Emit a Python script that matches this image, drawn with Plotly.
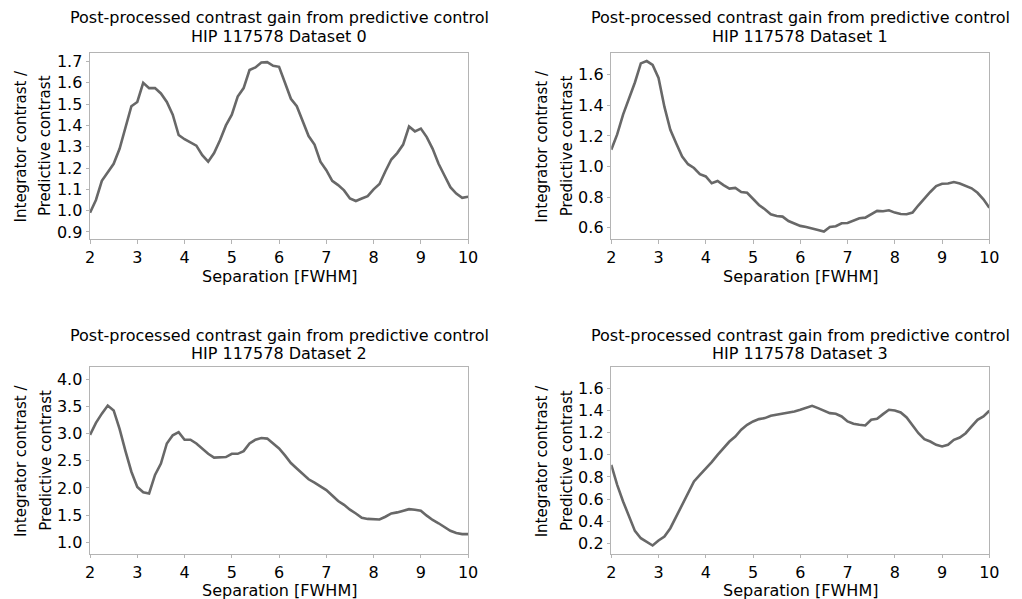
import plotly.graph_objects as go

separation = [2.0, 2.125, 2.25, 2.375, 2.5, 2.625, 2.75, 2.875,
              3.0, 3.125, 3.25, 3.375, 3.5, 3.625, 3.75, 3.875,
              4.0, 4.125, 4.25, 4.375, 4.5, 4.625, 4.75, 4.875,
              5.0, 5.125, 5.25, 5.375, 5.5, 5.625, 5.75, 5.875,
              6.0, 6.125, 6.25, 6.375, 6.5, 6.625, 6.75, 6.875,
              7.0, 7.125, 7.25, 7.375, 7.5, 7.625, 7.75, 7.875,
              8.0, 8.125, 8.25, 8.375, 8.5, 8.625, 8.75, 8.875,
              9.0, 9.125, 9.25, 9.375, 9.5, 9.625, 9.75, 9.875, 10.0]

gain_dataset0 = [0.99, 1.05, 1.14, 1.18, 1.22, 1.29, 1.39, 1.49,
                 1.51, 1.60, 1.575, 1.575, 1.55, 1.51, 1.45, 1.355,
                 1.335, 1.32, 1.305, 1.26, 1.23, 1.27, 1.33, 1.40,
                 1.45, 1.535, 1.575, 1.66, 1.672, 1.695, 1.697, 1.68,
                 1.675, 1.60, 1.525, 1.49, 1.42, 1.35, 1.31, 1.23,
                 1.19, 1.14, 1.12, 1.095, 1.057, 1.045, 1.057, 1.068,
                 1.10, 1.125, 1.185, 1.24, 1.27, 1.31, 1.395, 1.372,
                 1.385, 1.345, 1.29, 1.22, 1.165, 1.11, 1.08, 1.06, 1.065]

gain_dataset1 = [1.11, 1.21, 1.34, 1.45, 1.55, 1.675, 1.69, 1.665,
                 1.58, 1.39, 1.24, 1.15, 1.065, 1.015, 0.99, 0.95,
                 0.935, 0.89, 0.905, 0.878, 0.855, 0.86, 0.833, 0.828,
                 0.785, 0.748, 0.72, 0.687, 0.676, 0.672, 0.643, 0.626,
                 0.611, 0.604, 0.596, 0.585, 0.574, 0.604, 0.609, 0.628,
                 0.63, 0.643, 0.661, 0.665, 0.687, 0.709, 0.707, 0.713,
                 0.698, 0.689, 0.687, 0.698, 0.746, 0.791, 0.833, 0.872,
                 0.887, 0.889, 0.898, 0.889, 0.872, 0.857, 0.828, 0.785, 0.73]

gain_dataset2 = [2.98, 3.20, 3.37, 3.52, 3.43, 3.09, 2.68, 2.30,
                 2.02, 1.92, 1.90, 2.24, 2.45, 2.82, 2.97, 3.03,
                 2.89, 2.89, 2.82, 2.73, 2.63, 2.56, 2.57, 2.57,
                 2.63, 2.63, 2.68, 2.82, 2.89, 2.92, 2.91, 2.82,
                 2.73, 2.60, 2.46, 2.36, 2.26, 2.16, 2.10, 2.03,
                 1.96, 1.86, 1.76, 1.69, 1.60, 1.53, 1.45, 1.43,
                 1.42, 1.42, 1.47, 1.53, 1.55, 1.58, 1.61, 1.60,
                 1.58, 1.49, 1.41, 1.35, 1.28, 1.21, 1.17, 1.15, 1.15]

gain_dataset3 = [0.909, 0.729, 0.579, 0.443, 0.314, 0.248, 0.212, 0.182,
                 0.227, 0.263, 0.338, 0.443, 0.549, 0.654, 0.759, 0.819,
                 0.873, 0.933, 0.999, 1.059, 1.119, 1.164, 1.225, 1.270,
                 1.300, 1.321, 1.330, 1.351, 1.360, 1.375, 1.381, 1.390,
                 1.405, 1.420, 1.441, 1.420, 1.399, 1.375, 1.369, 1.345,
                 1.300, 1.279, 1.270, 1.264, 1.315, 1.324, 1.366, 1.405,
                 1.399, 1.381, 1.336, 1.264, 1.194, 1.140, 1.119, 1.089,
                 1.074, 1.089, 1.134, 1.155, 1.194, 1.255, 1.315, 1.345, 1.396]

datasets = [gain_dataset0, gain_dataset1, gain_dataset2, gain_dataset3]
dataset_names = ["HIP 117578 Dataset 0", "HIP 117578 Dataset 1",
                 "HIP 117578 Dataset 2", "HIP 117578 Dataset 3"]
main_title = "Post-processed contrast gain from predictive control"
x_label = "Separation [FWHM]"
y_label_lines = ["Integrator contrast /", "Predictive contrast"]
x_ticks = [2, 3, 4, 5, 6, 7, 8, 9, 10]

W, H = 1022, 599
# axes boxes in pixels: (left, right, top, bottom)
boxes = [(86.3, 470.0, 52.7, 240.0), (615.3, 999.0, 52.7, 240.0),
         (86.3, 470.0, 368.4, 555.7), (615.3, 999.0, 368.4, 555.7)]
# title line offsets above the axes top (px), per subplot
title_offsets = [(35.5, 16.5), (35.5, 16.5), (32.0, 13.5), (32.0, 13.5)]
y_ranges = [(0.866, 1.742), (0.524, 1.746), (0.786, 4.227), (0.107, 1.789)]
y_dticks = [0.1, 0.2, 0.5, 0.2]
y_tick0 = [0.9, 0.6, 1.0, 0.2]

FONT = "DejaVu Sans"
LINE_COLOR = "#686868"
SPINE = "#b4b4b4"

fig = go.Figure()
annotations = []


def px2x(px):
    return px / W


def px2y(py):
    return 1 - py / H


for i, (vals, name) in enumerate(zip(datasets, dataset_names)):
    n = i + 1
    xa = "x" if n == 1 else f"x{n}"
    ya = "y" if n == 1 else f"y{n}"
    fig.add_trace(go.Scatter(x=separation, y=vals, mode="lines",
                             line=dict(color=LINE_COLOR, width=2.6),
                             xaxis=xa, yaxis=ya, showlegend=False,
                             hoverinfo="x+y"))
    l, r, t, b = boxes[i]
    xkey = "xaxis" if n == 1 else f"xaxis{n}"
    ykey = "yaxis" if n == 1 else f"yaxis{n}"
    common = dict(showgrid=False, zeroline=False, showline=True, mirror=True,
                  linecolor=SPINE, linewidth=1, ticks="outside", ticklen=3.5,
                  tickwidth=1, tickcolor=SPINE,
                  tickfont=dict(family=FONT, size=16, color="black"))
    fig.update_layout({
        xkey: dict(domain=[px2x(l), px2x(r)], anchor=ya, range=[2, 10],
                   tickvals=x_ticks, **common),
        ykey: dict(domain=[px2y(b), px2y(t)], anchor=xa,
                   range=list(y_ranges[i]), tick0=y_tick0[i],
                   dtick=y_dticks[i], tickformat=".1f", **common),
    })
    cx = (l + r) / 2
    cy = (t + b) / 2
    o1, o2 = title_offsets[i]
    annotations.append(dict(text=main_title, x=px2x(cx), y=px2y(t - o1),
                            xref="paper", yref="paper", showarrow=False,
                            xanchor="center", yanchor="middle",
                            font=dict(family=FONT, size=16, color="black")))
    annotations.append(dict(text=name, x=px2x(cx), y=px2y(t - o2),
                            xref="paper", yref="paper", showarrow=False,
                            xanchor="center", yanchor="middle",
                            font=dict(family=FONT, size=16, color="black")))
    annotations.append(dict(text=x_label, x=px2x(cx), y=px2y(b + 37),
                            xref="paper", yref="paper", showarrow=False,
                            xanchor="center", yanchor="middle",
                            font=dict(family=FONT, size=16, color="black")))
    for k, off in enumerate([70.5, 45.5]):
        annotations.append(dict(text=y_label_lines[k], x=px2x(l - off),
                                y=px2y(cy), xref="paper", yref="paper",
                                showarrow=False, textangle=-90,
                                xanchor="center", yanchor="middle",
                                font=dict(family=FONT, size=15, color="black")))

fig.update_layout(width=W, height=H, autosize=False,
                  margin=dict(l=0, r=0, t=0, b=0),
                  paper_bgcolor="white", plot_bgcolor="white",
                  annotations=annotations,
                  font=dict(family=FONT, color="black"))

fig.write_html("out.html")
